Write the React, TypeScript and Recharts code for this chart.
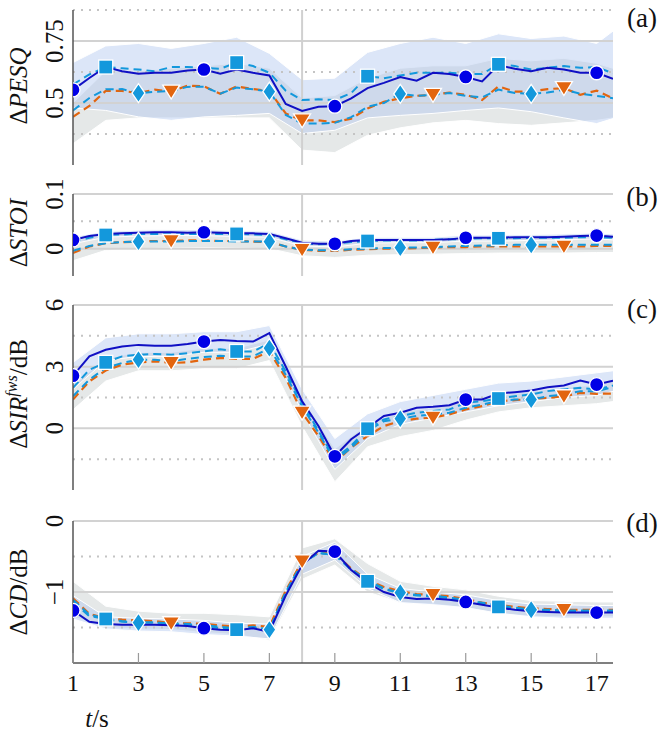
import React from "react";
import { Area, ComposedChart, Line, ReferenceLine, XAxis, YAxis } from "recharts";

// time axis (s), 0.5 s frames for the curves, 1 s frames for the spread bands
const T = [1, 1.5, 2, 2.5, 3, 3.5, 4, 4.5, 5, 5.5, 6, 6.5, 7, 7.5, 8, 8.5, 9, 9.5, 10, 10.5, 11, 11.5, 12, 12.5, 13, 13.5, 14, 14.5, 15, 15.5, 16, 16.5, 17, 17.5];
const TB = [1, 2, 3, 4, 5, 6, 7, 8, 9, 10, 11, 12, 13, 14, 15, 16, 17, 17.5];
const X_TICKS = [1, 3, 5, 7, 9, 11, 13, 15, 17];

// marker positions of each series
const MARK_CIRCLE = [1, 5, 9, 13, 17];
const MARK_SQUARE = [2, 6, 10, 14];
const MARK_DIAMOND = [3, 7, 11, 15];
const MARK_TRIANGLE = [4, 8, 12, 16];

// (a) delta PESQ
const PESQ_BLUE = [0.553, 0.601, 0.645, 0.628, 0.618, 0.622, 0.622, 0.631, 0.635, 0.618, 0.635, 0.622, 0.611, 0.496, 0.468, 0.485, 0.487, 0.519, 0.56, 0.581, 0.605, 0.59, 0.622, 0.617, 0.605, 0.587, 0.653, 0.638, 0.628, 0.642, 0.635, 0.622, 0.622, 0.598];
const PESQ_SQUARE = [0.575, 0.615, 0.645, 0.64, 0.635, 0.628, 0.645, 0.645, 0.642, 0.638, 0.663, 0.649, 0.622, 0.55, 0.512, 0.515, 0.512, 0.54, 0.608, 0.6, 0.611, 0.622, 0.622, 0.622, 0.617, 0.617, 0.656, 0.649, 0.635, 0.642, 0.649, 0.642, 0.645, 0.62];
const PESQ_DIAMOND = [0.47, 0.52, 0.555, 0.556, 0.54, 0.545, 0.548, 0.565, 0.566, 0.538, 0.562, 0.555, 0.546, 0.452, 0.417, 0.417, 0.42, 0.443, 0.485, 0.5, 0.537, 0.529, 0.533, 0.54, 0.529, 0.523, 0.554, 0.54, 0.537, 0.542, 0.554, 0.537, 0.529, 0.519];
const PESQ_ORANGE = [0.444, 0.488, 0.549, 0.549, 0.54, 0.554, 0.546, 0.57, 0.567, 0.537, 0.567, 0.556, 0.549, 0.458, 0.43, 0.43, 0.423, 0.437, 0.478, 0.505, 0.519, 0.529, 0.533, 0.542, 0.533, 0.512, 0.567, 0.546, 0.546, 0.556, 0.56, 0.533, 0.55, 0.519];
const PESQ_BLUE_HI = [0.663, 0.73, 0.74, 0.72, 0.74, 0.765, 0.7, 0.594, 0.6, 0.704, 0.74, 0.765, 0.74, 0.779, 0.76, 0.77, 0.74, 0.79];
const PESQ_BLUE_LO = [0.48, 0.47, 0.444, 0.43, 0.444, 0.45, 0.458, 0.377, 0.39, 0.44, 0.45, 0.458, 0.47, 0.48, 0.465, 0.44, 0.417, 0.437];
const PESQ_GRAY_HI = [0.5, 0.63, 0.63, 0.64, 0.65, 0.66, 0.64, 0.52, 0.53, 0.6, 0.64, 0.65, 0.65, 0.68, 0.67, 0.68, 0.66, 0.64];
const PESQ_GRAY_LO = [0.336, 0.43, 0.44, 0.44, 0.44, 0.44, 0.44, 0.31, 0.3, 0.37, 0.4, 0.42, 0.43, 0.417, 0.41, 0.42, 0.43, 0.44];

// (b) delta STOI
const STOI_BLUE = [0.016, 0.023, 0.027, 0.028, 0.029, 0.03, 0.03, 0.029, 0.03, 0.029, 0.028, 0.028, 0.027, 0.019, 0.011, 0.009, 0.009, 0.014, 0.016, 0.016, 0.016, 0.016, 0.016, 0.017, 0.02, 0.02, 0.02, 0.021, 0.021, 0.021, 0.022, 0.023, 0.024, 0.022];
const STOI_SQUARE = [0.012, 0.02, 0.025, 0.026, 0.027, 0.027, 0.027, 0.027, 0.027, 0.027, 0.027, 0.026, 0.025, 0.017, 0.01, 0.008, 0.009, 0.012, 0.014, 0.015, 0.015, 0.015, 0.016, 0.017, 0.018, 0.019, 0.019, 0.019, 0.02, 0.02, 0.02, 0.021, 0.021, 0.02];
const STOI_DIAMOND = [-0.004, 0.005, 0.01, 0.012, 0.013, 0.013, 0.013, 0.014, 0.014, 0.014, 0.013, 0.013, 0.013, 0.004, -0.002, -0.003, -0.003, -0.001, 0, 0.001, 0.002, 0.002, 0.003, 0.004, 0.005, 0.006, 0.006, 0.007, 0.007, 0.007, 0.007, 0.007, 0.007, 0.007];
const STOI_ORANGE = [-0.008, 0.004, 0.01, 0.012, 0.013, 0.014, 0.014, 0.015, 0.015, 0.014, 0.014, 0.013, 0.012, 0.004, -0.002, -0.004, -0.004, -0.002, -0.001, 0, 0, 0.001, 0.002, 0.003, 0.003, 0.004, 0.004, 0.004, 0.004, 0.004, 0.004, 0.004, 0.005, 0.005];
const STOI_BLUE_HI = [0.022, 0.032, 0.034, 0.035, 0.035, 0.033, 0.032, 0.016, 0.014, 0.021, 0.021, 0.021, 0.025, 0.025, 0.026, 0.027, 0.029, 0.027];
const STOI_BLUE_LO = [0.009, 0.021, 0.023, 0.024, 0.024, 0.022, 0.021, 0.005, 0.003, 0.01, 0.011, 0.011, 0.014, 0.014, 0.015, 0.016, 0.018, 0.016];
const STOI_GRAY_HI = [0.014, 0.028, 0.03, 0.03, 0.03, 0.03, 0.028, 0.013, 0.012, 0.017, 0.018, 0.019, 0.021, 0.022, 0.023, 0.023, 0.024, 0.023];
const STOI_GRAY_LO = [-0.022, -0.003, 0, 0.001, 0.002, 0.001, 0, -0.013, -0.016, -0.012, -0.011, -0.01, -0.009, -0.008, -0.008, -0.008, -0.007, -0.007];

// (c) delta SIR fws in dB
const SIR_BLUE = [2.56, 3.5, 3.82, 3.98, 4.06, 4.02, 4.02, 4.1, 4.22, 4.3, 4.25, 4.22, 4.63, 3.01, 1.32, 0.11, -1.36, -0.53, 0.03, 0.6, 0.76, 1.0, 1.05, 1.12, 1.4, 1.4, 1.69, 1.76, 1.84, 2.0, 2.08, 2.32, 2.13, 2.32];
const SIR_SQUARE = [1.97, 2.85, 3.21, 3.5, 3.58, 3.62, 3.58, 3.66, 3.74, 3.85, 3.74, 3.74, 4.14, 2.77, 1.24, -0.13, -1.47, -0.85, -0.02, 0.43, 0.6, 0.76, 0.84, 0.92, 1.24, 1.32, 1.45, 1.56, 1.65, 1.81, 1.89, 1.97, 1.89, 2.08];
const SIR_DIAMOND = [1.56, 2.37, 2.94, 3.18, 3.34, 3.34, 3.26, 3.38, 3.47, 3.53, 3.5, 3.5, 3.9, 2.61, 1.08, -0.21, -1.58, -0.95, -0.13, 0.35, 0.47, 0.6, 0.68, 0.76, 1.0, 1.16, 1.32, 1.4, 1.4, 1.56, 1.65, 1.81, 1.81, 2.0];
const SIR_ORANGE = [1.4, 2.29, 2.81, 3.1, 3.21, 3.26, 3.18, 3.21, 3.34, 3.42, 3.38, 3.38, 3.74, 2.45, 0.76, -0.37, -1.66, -0.93, -0.37, 0.11, 0.35, 0.47, 0.52, 0.68, 0.92, 1.08, 1.32, 1.37, 1.43, 1.48, 1.56, 1.72, 1.68, 1.69];
const SIR_BLUE_HI = [3.2, 4.4, 4.6, 4.6, 4.7, 4.7, 5.0, 1.9, -0.5, 0.7, 1.3, 1.6, 1.9, 2.2, 2.3, 2.5, 2.7, 2.8];
const SIR_BLUE_LO = [1.9, 3.3, 3.5, 3.5, 3.7, 3.7, 4.1, 0.8, -2.0, -0.5, 0.2, 0.5, 0.8, 1.1, 1.3, 1.5, 1.6, 1.8];
const SIR_GRAY_HI = [2.1, 3.4, 3.7, 3.7, 3.9, 3.9, 4.3, 1.5, -1.0, 0.2, 0.8, 1.0, 1.4, 1.6, 1.8, 2.0, 2.1, 2.3];
const SIR_GRAY_LO = [0.9, 2.3, 2.8, 2.8, 2.9, 2.9, 3.3, 0.1, -2.6, -0.9, -0.4, -0.1, 0.4, 0.8, 1.0, 1.1, 1.2, 1.3];

// (d) delta CD in dB
const CD_BLUE = [-1.26, -1.42, -1.45, -1.46, -1.46, -1.46, -1.47, -1.48, -1.51, -1.53, -1.54, -1.51, -1.56, -1.05, -0.62, -0.42, -0.43, -0.69, -0.87, -1.0, -1.07, -1.1, -1.09, -1.11, -1.14, -1.18, -1.22, -1.25, -1.27, -1.28, -1.29, -1.29, -1.29, -1.29];
const CD_SQUARE = [-1.14, -1.34, -1.38, -1.42, -1.43, -1.43, -1.45, -1.46, -1.48, -1.51, -1.53, -1.5, -1.53, -1.02, -0.6, -0.45, -0.47, -0.69, -0.85, -0.96, -1.02, -1.05, -1.06, -1.09, -1.12, -1.17, -1.21, -1.23, -1.25, -1.26, -1.27, -1.27, -1.27, -1.27];
const CD_DIAMOND = [-1.11, -1.32, -1.37, -1.41, -1.43, -1.43, -1.44, -1.45, -1.47, -1.49, -1.51, -1.49, -1.53, -1.0, -0.59, -0.45, -0.48, -0.68, -0.84, -0.95, -1.01, -1.04, -1.05, -1.08, -1.11, -1.15, -1.19, -1.22, -1.25, -1.25, -1.26, -1.26, -1.26, -1.26];
const CD_ORANGE = [-1.09, -1.31, -1.37, -1.39, -1.4, -1.41, -1.44, -1.44, -1.45, -1.47, -1.49, -1.47, -1.49, -0.98, -0.57, -0.45, -0.46, -0.67, -0.83, -0.93, -0.99, -1.03, -1.04, -1.06, -1.1, -1.15, -1.18, -1.21, -1.23, -1.24, -1.25, -1.25, -1.25, -1.25];
const CD_BLUE_HI = [-1.05, -1.35, -1.37, -1.38, -1.4, -1.44, -1.45, -0.5, -0.3, -0.75, -0.95, -1.0, -1.04, -1.12, -1.17, -1.18, -1.19, -1.19];
const CD_BLUE_LO = [-1.38, -1.52, -1.55, -1.56, -1.6, -1.62, -1.66, -0.75, -0.55, -0.95, -1.15, -1.18, -1.22, -1.3, -1.35, -1.37, -1.37, -1.37];
const CD_GRAY_HI = [-0.85, -1.2, -1.27, -1.3, -1.3, -1.32, -1.35, -0.38, -0.25, -0.6, -0.85, -0.92, -0.97, -1.06, -1.12, -1.13, -1.14, -1.14];
const CD_GRAY_LO = [-1.35, -1.5, -1.52, -1.53, -1.57, -1.6, -1.68, -0.82, -0.62, -1.0, -1.15, -1.17, -1.22, -1.3, -1.34, -1.35, -1.35, -1.35];

const BLUE = "#1010c4";
const BLUE_DOT = "#0000e6";
const CYAN = "#1398dc";
const ORANGE = "#e2650f";
const FONT = "Liberation Serif, DejaVu Serif, serif";

function makeRows(blue, square, diamond, orange) {
  return T.map((t, i) => ({ t, blue: blue[i], square: square[i], diamond: diamond[i], orange: orange[i] }));
}

function makeBand(lo, hi) {
  return TB.map((t, i) => ({ t, band: [lo[i], hi[i]] }));
}

function marker(kind, marks, color) {
  return (p) => {
    const k = `m-${p.index}`;
    if (!marks.includes(p.payload.t) || p.cx == null || p.cy == null) return <g key={k} />;
    const { cx, cy } = p;
    if (kind === "circle")
      return <circle key={k} cx={cx} cy={cy} r={7} fill={color} stroke="#fff" strokeWidth={1.3} />;
    if (kind === "square")
      return <rect key={k} x={cx - 7} y={cy - 7} width={14} height={14} fill={color} stroke="#fff" strokeWidth={1.3} />;
    if (kind === "diamond")
      return <polygon key={k} points={`${cx},${cy - 9.5} ${cx + 6.5},${cy} ${cx},${cy + 9.5} ${cx - 6.5},${cy}`} fill={color} stroke="#fff" strokeWidth={1.3} />;
    return <polygon key={k} points={`${cx - 8.5},${cy - 6.5} ${cx + 8.5},${cy - 6.5} ${cx},${cy + 7.5}`} fill={color} stroke="#fff" strokeWidth={1.3} />;
  };
}

function Panel({ plotTop, plotH, below, domain, ticks, solid, dotted, rows, blueBand, grayBand, fmt, showX }) {
  const mt = Math.min(plotTop, 30);
  const plotBottom = mt + plotH;
  const axisH = showX ? 45 : 0;
  const height = mt + plotH + below;
  const yTick = (p) => (
    <text x={63} y={p.y} transform={`rotate(-90 63 ${p.y})`} textAnchor="middle" style={{ fontFamily: FONT, fontSize: 25 }} fill="#111">
      {fmt(p.payload.value)}
    </text>
  );
  const xTick = (p) => (
    <g>
      <line x1={p.x} x2={p.x} y1={plotBottom} y2={plotBottom - 10} stroke="#9a9a9a" strokeWidth={1.2} />
      <text x={p.x} y={plotBottom + 28} textAnchor="middle" style={{ fontFamily: FONT, fontSize: 24 }} fill="#111">
        {p.payload.value}
      </text>
    </g>
  );
  return (
    <div style={{ position: "absolute", left: 0, top: plotTop - mt }}>
      <ComposedChart width={661} height={height} data={rows} margin={{ top: mt, right: 48, bottom: below - axisH, left: 0 }}>
        <XAxis
          dataKey="t"
          type="number"
          domain={[1, 17.5]}
          ticks={X_TICKS}
          interval={0}
          allowDataOverflow
          height={axisH}
          tickLine={false}
          tick={showX ? xTick : false}
          axisLine={{ stroke: "#555", strokeWidth: 1.5 }}
        />
        <YAxis
          type="number"
          domain={domain}
          ticks={ticks}
          interval={0}
          allowDataOverflow
          width={73}
          tickLine={false}
          tick={yTick}
          axisLine={{ stroke: "#555", strokeWidth: 1.5 }}
        />
        {dotted.map((v) => (
          <ReferenceLine key={`d${v}`} y={v} stroke="#c4c4c4" strokeWidth={2} strokeDasharray="2 6" />
        ))}
        {solid.map((v) => (
          <ReferenceLine key={`s${v}`} y={v} stroke="#d2d2d2" strokeWidth={2} />
        ))}
        <ReferenceLine x={8} stroke="#d0d0d0" strokeWidth={2} />
        <Area data={grayBand} dataKey="band" type="linear" fill="#c6cbcd" fillOpacity={0.45} stroke="#fff" strokeWidth={1} isAnimationActive={false} />
        <Area data={blueBand} dataKey="band" type="linear" fill="#b2c8ef" fillOpacity={0.45} stroke="#fff" strokeWidth={1} isAnimationActive={false} />
        <Line dataKey="orange" type="linear" stroke={ORANGE} strokeWidth={2.2} strokeDasharray="8 5" dot={marker("triangle", MARK_TRIANGLE, ORANGE)} activeDot={false} isAnimationActive={false} />
        <Line dataKey="diamond" type="linear" stroke={CYAN} strokeWidth={2} strokeDasharray="8 5" dot={marker("diamond", MARK_DIAMOND, CYAN)} activeDot={false} isAnimationActive={false} />
        <Line dataKey="square" type="linear" stroke={CYAN} strokeWidth={2} strokeDasharray="8 5" dot={marker("square", MARK_SQUARE, CYAN)} activeDot={false} isAnimationActive={false} />
        <Line dataKey="blue" type="linear" stroke={BLUE} strokeWidth={2} dot={marker("circle", MARK_CIRCLE, BLUE_DOT)} activeDot={false} isAnimationActive={false} />
      </ComposedChart>
    </div>
  );
}

const plain = (v) => String(v);
const minus = (v) => (v < 0 ? `\u2212${Math.abs(v)}` : String(v));

export default function App() {
  const txt = { style: { fontFamily: FONT, fontSize: 25 }, fill: "#111" };
  const letter = { style: { fontFamily: FONT, fontSize: 27 }, fill: "#111" };
  return (
    <div style={{ position: "absolute", left: 0, top: 0, width: 661, height: 734, background: "#fff" }}>
      <Panel plotTop={10} plotH={155} below={12} domain={[0.25, 0.875]} ticks={[0.5, 0.75]} solid={[0.5, 0.75]} dotted={[0.375, 0.625, 0.875]}
        rows={makeRows(PESQ_BLUE, PESQ_SQUARE, PESQ_DIAMOND, PESQ_ORANGE)} blueBand={makeBand(PESQ_BLUE_LO, PESQ_BLUE_HI)} grayBand={makeBand(PESQ_GRAY_LO, PESQ_GRAY_HI)} fmt={plain} />
      <Panel plotTop={194} plotH={82} below={12} domain={[-0.05, 0.1]} ticks={[0, 0.1]} solid={[0, 0.1]} dotted={[0.05]}
        rows={makeRows(STOI_BLUE, STOI_SQUARE, STOI_DIAMOND, STOI_ORANGE)} blueBand={makeBand(STOI_BLUE_LO, STOI_BLUE_HI)} grayBand={makeBand(STOI_GRAY_LO, STOI_GRAY_HI)} fmt={plain} />
      <Panel plotTop={305} plotH={185} below={12} domain={[-3, 6]} ticks={[0, 3, 6]} solid={[0, 3, 6]} dotted={[-1.5, 1.5, 4.5]}
        rows={makeRows(SIR_BLUE, SIR_SQUARE, SIR_DIAMOND, SIR_ORANGE)} blueBand={makeBand(SIR_BLUE_LO, SIR_BLUE_HI)} grayBand={makeBand(SIR_GRAY_LO, SIR_GRAY_HI)} fmt={plain} />
      <Panel plotTop={521} plotH={142} below={71} domain={[-2, 0]} ticks={[-1, 0]} solid={[-1, 0]} dotted={[-1.5, -0.5]}
        rows={makeRows(CD_BLUE, CD_SQUARE, CD_DIAMOND, CD_ORANGE)} blueBand={makeBand(CD_BLUE_LO, CD_BLUE_HI)} grayBand={makeBand(CD_GRAY_LO, CD_GRAY_HI)} fmt={minus} showX />
      <svg width={661} height={734} style={{ position: "absolute", left: 0, top: 0, pointerEvents: "none" }}>
        <text {...txt} transform="translate(27 86) rotate(-90)" textAnchor="middle">
          <tspan>Δ</tspan><tspan fontStyle="italic">PESQ</tspan>
        </text>
        <text {...txt} transform="translate(27 233) rotate(-90)" textAnchor="middle">
          <tspan>Δ</tspan><tspan fontStyle="italic">STOI</tspan>
        </text>
        <text {...txt} transform="translate(27 394) rotate(-90)" textAnchor="middle">
          <tspan>Δ</tspan><tspan fontStyle="italic">SIR</tspan>
          <tspan fontStyle="italic" style={{ fontSize: 16 }} dy={-10}>fws</tspan>
          <tspan dy={10}>/dB</tspan>
        </text>
        <text {...txt} transform="translate(27 592) rotate(-90)" textAnchor="middle">
          <tspan>Δ</tspan><tspan fontStyle="italic">CD</tspan><tspan>/dB</tspan>
        </text>
        <text {...letter} x={642} y={27} textAnchor="middle">(a)</text>
        <text {...letter} x={642} y={206} textAnchor="middle">(b)</text>
        <text {...letter} x={642} y={318} textAnchor="middle">(c)</text>
        <text {...letter} x={642} y={532} textAnchor="middle">(d)</text>
        <text {...txt} x={97} y={727} textAnchor="middle">
          <tspan fontStyle="italic">t</tspan><tspan>/s</tspan>
        </text>
      </svg>
    </div>
  );
}
